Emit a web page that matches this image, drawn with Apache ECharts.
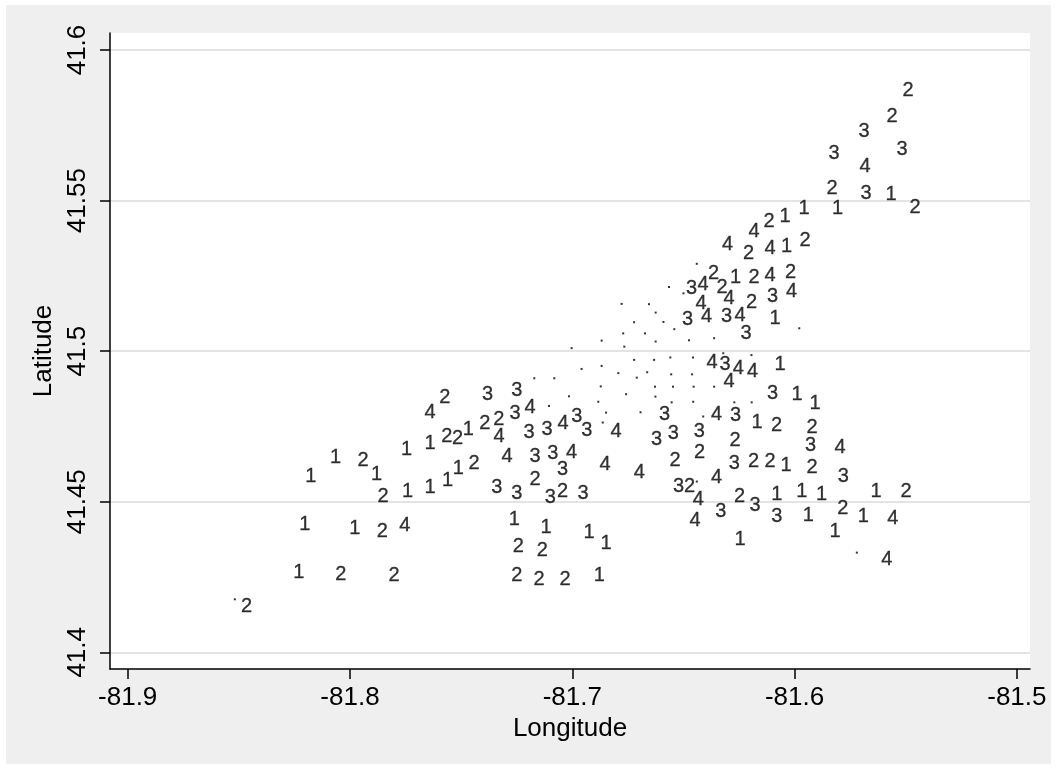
<!DOCTYPE html>
<html><head><meta charset="utf-8">
<script src="https://cdn.jsdelivr.net/npm/echarts@6/dist/echarts.min.js"></script>
<style>
html,body{margin:0;padding:0;background:#fff;}
#bg{position:absolute;left:6px;top:5px;width:1045px;height:759px;background:#efefef;}
#c{position:absolute;left:0;top:0;width:1057px;height:769px;}
</style></head><body>
<div id="bg"></div>
<div id="c"></div>
<script>
// Labeled observations (longitude, latitude, category label)
const labLon = [
-81.5489,-81.5561,-81.5687,-81.5516,-81.5822,-81.5683,-81.5831,-81.5678,-81.5566,-81.5458,
-81.5807,-81.5957,-81.6043,-81.6115,-81.6182,-81.5953,-81.6302,-81.6036,-81.6110,-81.6207,
-81.6365,-81.6266,-81.6182,-81.6110,-81.6018,-81.6464,-81.6412,-81.6326,-81.6295,-81.6194,
-81.6099,-81.6014,-81.6421,-81.6482,-81.6396,-81.6306,-81.6245,-81.6088,-81.6218,
-81.6371,-81.6313,-81.6253,-81.6189,-81.6065,-81.6295,-81.6099,-81.5989,-81.5908,-81.6585,
-81.6351,-81.6266,-81.6169,-81.6081,-81.5921,-81.6621,-81.6546,-81.6429,-81.6268,-81.5928,
-81.5795,-81.6538,-81.6428,-81.6271,-81.6185,-81.6110,-81.6038,-81.5921,-81.6351,-81.5781,
-81.6522,-81.6473,-81.6433,-81.6248,-81.6178,-81.6080,-81.5968,-81.5879,-81.5633,-81.5498,
-81.5783,-81.6332,-81.6448,-81.6080,-81.5938,-81.5691,-81.5558,-81.5818,-81.6245,-81.5585,
-81.7745,-81.7640,-81.8065,-81.7941,-81.8176,-81.7880,-81.7851,-81.7741,-81.7640,-81.8203,
-81.7978,-81.7855,-81.7753,-81.8230,-81.8041,-81.7802,-81.8465,
-81.7250,-81.7381,-81.7573,-81.7640,-81.7190,-81.7258,-81.7330,-81.7393,-81.7468,-81.7565,
-81.7516,-81.7329,-81.7194,-81.7113,-81.7041,-81.6980,-81.6935,-81.6803,-81.7293,-81.7168,
-81.7088,-81.7003,-81.7044,-81.7168,-81.7442,-81.7513,-81.7561,-81.6853,-81.6699,-81.7339,
-81.7250,-81.7099,-81.7044,-81.6951,-81.7261,-81.7118,-81.6924,-81.6848,-81.7243,-81.7135,
-81.7250,-81.7149,-81.7033,-81.6879];
const labLat = [
41.5866,41.5778,41.5731,41.5671,41.5658,41.5612,41.5539,41.5525,41.5519,41.5477,
41.5475,41.5474,41.5446,41.5432,41.5399,41.5368,41.5354,41.5346,41.5341,41.5323,
41.5258,41.5246,41.5246,41.5251,41.5261,41.5207,41.5221,41.5210,41.5175,41.5162,
41.5182,41.5198,41.5157,41.5104,41.5114,41.5115,41.5117,41.5107,41.5060,
41.4961,41.4956,41.4943,41.4931,41.4956,41.4899,41.4860,41.4855,41.4827,41.4790,
41.4791,41.4785,41.4762,41.4752,41.4748,41.4707,41.4728,41.4733,41.4702,41.4687,
41.4680,41.4637,41.4664,41.4626,41.4632,41.4632,41.4621,41.4614,41.4582,41.4584,
41.4549,41.4552,41.4509,41.4519,41.4489,41.4523,41.4534,41.4524,41.4533,41.4533,
41.4478,41.4468,41.4438,41.4450,41.4453,41.4450,41.4443,41.4401,41.4373,41.4309,
41.4674,41.4692,41.4648,41.4636,41.4583,41.4589,41.4517,41.4534,41.4546,41.4423,
41.4412,41.4401,41.4420,41.4265,41.4257,41.4254,41.4152,
41.4871,41.4855,41.4847,41.4796,41.4814,41.4794,41.4774,41.4761,41.4741,41.4718,
41.4711,41.4716,41.4729,41.4741,41.4761,41.4783,41.4738,41.4732,41.4650,41.4651,
41.4660,41.4662,41.4607,41.4575,41.4628,41.4611,41.4571,41.4622,41.4597,41.4547,
41.4526,41.4514,41.4534,41.4526,41.4440,41.4415,41.4397,41.4360,41.4353,41.4337,
41.4254,41.4243,41.4243,41.4254];
const labCat = [
2,2,3,3,3,4,2,3,1,2, 1,1,1,2,4,2,4,1,4,2, 2,1,2,4,2,3,4,2,4,2, 3,4,4,3,4,3,4,1,3,
4,3,4,4,1,4,3,1,1,3, 4,3,1,2,2,3,3,3,2,3, 4,2,2,3,2,2,1,2,4,3, 3,2,4,2,3,1,1,1,1,2, 2,3,4,3,1,1,4,1,1,4,
1,1,1,2,1,1,2,1,1,1, 1,2,4,1,2,2,2,
3,3,2,4,4,3,2,2,1,2, 2,4,3,3,4,3,3,4,4,3, 3,4,3,2,2,1,1,4,4,3, 3,3,2,3,1,1,1,1,2,2, 2,2,2,1];

// Unlabeled observations (drawn as tiny points)
const dotLon = [
-81.6440,-81.6565,-81.6500,-81.6778,-81.6655,-81.6625,-81.6722,-81.6590,-81.6541,-81.5979,
-81.6771,-81.6673,-81.6868,-81.6766,-81.6625,-81.6475,-81.6362,-81.7003,-81.6722,-81.6632,
-81.6559,-81.6457,-81.6321,-81.6194,-81.6958,-81.6868,-81.6793,-81.6710,-81.6663,-81.6555,
-81.6461,-81.7171,-81.7081,-81.6872,-81.6758,-81.7015,-81.6626,-81.6628,-81.6547,-81.6454,
-81.6362,-81.6883,-81.7105,-81.6848,-81.6863,-81.6693,-81.6553,-81.6456,-81.6271,-81.6193,
-81.6411,-81.6440,-81.5720,-81.8518];
const dotLat = [
41.5290,41.5213,41.5192,41.5157,41.5156,41.5128,41.5096,41.5097,41.5073,41.5076,
41.5059,41.5059,41.5035,41.5015,41.5032,41.5036,41.5043,41.5010,41.4971,41.4971,
41.4979,41.4979,41.4993,41.4987,41.4941,41.4951,41.4927,41.4912,41.4930,41.4923,
41.4923,41.4910,41.4910,41.4883,41.4857,41.4850,41.4849,41.4882,41.4882,41.4882,
41.4882,41.4832,41.4818,41.4796,41.4763,41.4797,41.4830,41.4832,41.4830,41.4830,
41.4783,41.4567,41.4331,41.4176];

const xTicks = [-81.9, -81.8, -81.7, -81.6, -81.5];
const yTicks = [41.4, 41.45, 41.5, 41.55, 41.6];

const labData = labLon.map((x, i) => [x, labLat[i], labCat[i]]);
const dotData = dotLon.map((x, i) => [x, dotLat[i]]);

const FONT = '"Liberation Sans", Arial, Helvetica, sans-serif';
const chart = echarts.init(document.getElementById('c'), null, {renderer: 'canvas'});
chart.setOption({
  animation: false,
  backgroundColor: 'transparent',
  grid: {left: 110, right: 27, top: 33, bottom: 100, show: true, backgroundColor: '#ffffff', borderWidth: 0},
  xAxis: {
    type: 'value', min: -81.90796, max: -81.4941,
    name: 'Longitude', nameLocation: 'middle', nameGap: 46,
    nameTextStyle: {fontFamily: FONT, fontSize: 26, color: '#000'},
    axisLine: {show: true, onZero: false, lineStyle: {color: '#000', width: 1.5}},
    axisTick: {show: true, length: 10, customValues: xTicks, lineStyle: {color: '#000', width: 1.5}},
    axisLabel: {customValues: xTicks, margin: 16, fontFamily: FONT, fontSize: 26, color: '#000',
      formatter: v => String(v)},
    splitLine: {show: false}
  },
  yAxis: {
    type: 'value', min: 41.39445, max: 41.60565,
    name: 'Latitude', nameLocation: 'middle', nameGap: 52, nameRotate: 90,
    nameTextStyle: {fontFamily: FONT, fontSize: 26, color: '#000'},
    axisLine: {show: true, onZero: false, lineStyle: {color: '#000', width: 1.5}},
    axisTick: {show: true, length: 10, customValues: yTicks, lineStyle: {color: '#000', width: 1.5}},
    axisLabel: {customValues: yTicks, rotate: 90, margin: 19, fontFamily: FONT, fontSize: 26, color: '#000',
      formatter: v => String(v)},
    splitLine: {show: true, lineStyle: {color: '#e4e4e4', width: 2}}
  },
  series: [
    {
      type: 'scatter', data: dotData, symbol: 'rect', symbolSize: 2,
      itemStyle: {color: '#000'}, silent: true
    },
    {
      type: 'scatter', data: labData, symbol: 'circle', symbolSize: 1,
      itemStyle: {color: 'rgba(0,0,0,0)'}, silent: true,
      label: {show: true, position: 'inside', formatter: p => String(p.value[2]),
        fontFamily: FONT, fontSize: 20, color: '#000', textBorderColor: '#000', textBorderWidth: 0.3}
    }
  ]
});
</script>
</body></html>
